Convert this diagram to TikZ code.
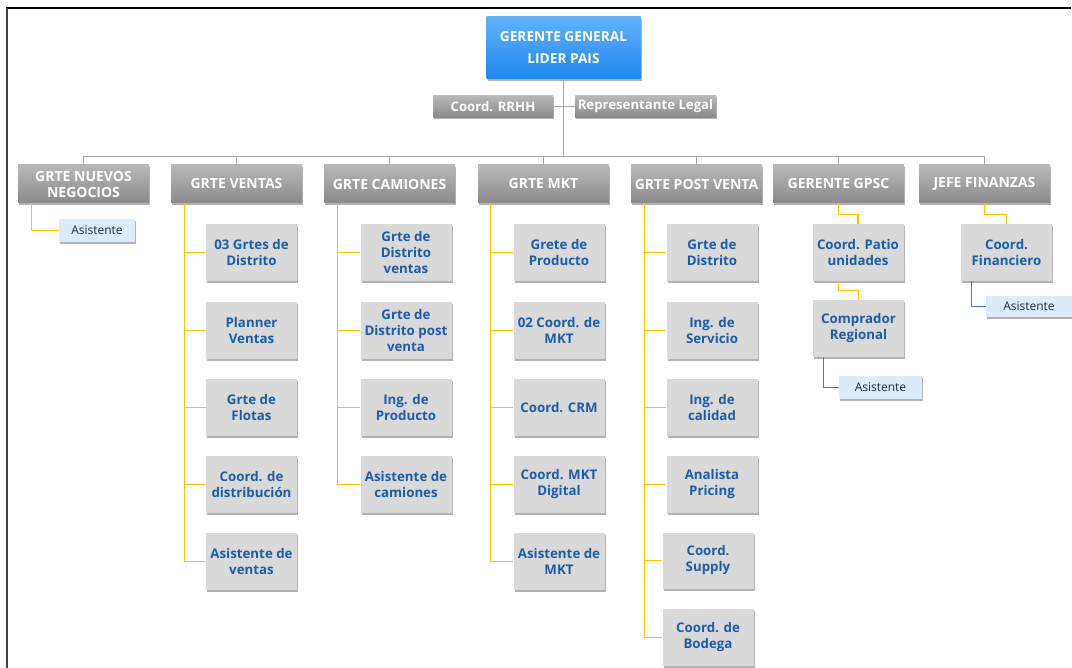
\documentclass[tikz,border=0pt]{standalone}
\usepackage{fontspec}
\setmainfont{Open Sans}
\usetikzlibrary{shadows,calc}
\definecolor{topA}{HTML}{62B2F8}
\definecolor{topB}{HTML}{1E86EE}
\definecolor{headA}{HTML}{B8B8B8}
\definecolor{headB}{HTML}{8A8A8A}
\definecolor{childfill}{HTML}{D9D9D9}
\definecolor{childtext}{HTML}{1C5BA6}
\definecolor{asisfill}{HTML}{DCEBFB}
\definecolor{asistext}{HTML}{1B2A3A}
\definecolor{yelline}{HTML}{FFC000}
\definecolor{bluline}{HTML}{3B7DDD}
\definecolor{gryline}{HTML}{A6A6A6}
\tikzset{
  shad/.style={drop shadow={shadow xshift=1.2pt,shadow yshift=-2pt,fill=black,opacity=0.3}},
  topbox/.style={shad,rectangle,top color=topA,bottom color=topB,draw=none,minimum width=154pt,minimum height=62pt,
    text=white,font=\fontsize{13.7}{22}\selectfont\bfseries,align=center,inner sep=0pt},
  headbox/.style={shad,rectangle,top color=headA,bottom color=headB,draw=none,minimum width=131pt,minimum height=38pt,
    text=white,font=\fontsize{14}{16}\selectfont\bfseries,align=center,inner sep=0pt},
  smallhead/.style={headbox,minimum height=22pt,font=\fontsize{13.2}{16}\selectfont\bfseries},
  childbox/.style={shad,rectangle,fill=childfill,draw=none,minimum width=91pt,minimum height=57pt,
    text=childtext,font=\fontsize{13.3}{16}\selectfont\bfseries,align=center,inner sep=0pt},
  asisbox/.style={shad,rectangle,fill=asisfill,draw=none,minimum height=23pt,
    text=asistext,font=\fontsize{12}{13}\selectfont,align=center,inner sep=0pt},
  yel/.style={draw=yelline,line width=1.1pt},
  blu/.style={draw=bluline,line width=1.1pt},
  gry/.style={draw=gryline,line width=1.1pt},
}
\begin{document}
\begin{tikzpicture}[x=1pt,y=-1pt]
\useasboundingbox (0,0) rectangle (1072,668);
\fill[white] (0,0) rectangle (1072,668);
% frame
\draw[black,line width=1.3pt] (6,8) -- (1071,8);
\draw[black!75,line width=1.5pt] (7,8) -- (7,668);
\coordinate (bar) at (0,156.5);
% top
\node[topbox] (top) at (563.5,48) {GERENTE GENERAL\\LIDER PAIS};
\node[smallhead,minimum width=120pt] (rrhh) at (493,106.5) {Coord. RRHH};
\node[smallhead,minimum width=141pt] (rep) at (645.5,106.5) {Representante Legal};
% heads
\node[headbox] (h1) at (83.5,184) {GRTE NUEVOS\\NEGOCIOS};
\node[headbox] (h2) at (236.5,184) {GRTE VENTAS};
\node[headbox] (h3) at (389.5,184) {GRTE\ CAMIONES};
\node[headbox] (h4) at (543.5,184) {GRTE MKT};
\node[headbox] (h5) at (696.5,184) {GRTE POST VENTA};
\node[headbox] (h6) at (838.5,184) {GERENTE\ GPSC};
\node[headbox] (h7) at (984.5,184) {JEFE FINANZAS};
% ventas children
\node[childbox] (v1) at (251.5,252.5) {03 Grtes de\\Distrito};
\node[childbox] (v2) at (251.5,330.5) {Planner\\Ventas};
\node[childbox] (v3) at (251.5,407.5) {Grte de\\Flotas};
\node[childbox] (v4) at (251.5,484.5) {Coord. de\\distribución};
\node[childbox] (v5) at (251.5,561.5) {Asistente de\\ventas};
% camiones children
\node[childbox] (c1) at (406,252.5) {Grte de\\Distrito\\ventas};
\node[childbox] (c2) at (406,330.5) {Grte de\\Distrito post\\venta};
\node[childbox] (c3) at (406,407.5) {Ing. de\\Producto};
\node[childbox] (c4) at (406,484.5) {Asistente de\\camiones};
% mkt children
\node[childbox] (m1) at (559,252.5) {Grete de\\Producto};
\node[childbox] (m2) at (559,330.5) {02 Coord. de\\MKT};
\node[childbox] (m3) at (559,407.5) {Coord. CRM};
\node[childbox] (m4) at (559,484.5) {Coord. MKT\\Digital};
\node[childbox] (m5) at (559,561.5) {Asistente de\\MKT};
% post venta children
\node[childbox] (p1) at (712,252.5) {Grte de\\Distrito};
\node[childbox] (p2) at (712,330.5) {Ing. de\\Servicio};
\node[childbox] (p3) at (712,407.5) {Ing. de\\calidad};
\node[childbox] (p4) at (712,484.5) {Analista\\Pricing};
\node[childbox,minimum height=56pt] (p5) at (708,560.5) {Coord.\\Supply};
\node[childbox] (p6) at (708,637.5) {Coord. de\\Bodega};
% gpsc
\node[childbox] (g1) at (858,252.5) {Coord. Patio\\unidades};
\node[childbox] (g2) at (858.5,328.5) {Comprador\\Regional};
% finanzas
\node[childbox] (f1) at (1006.5,252.5) {Coord.\\Financiero};
% asistentes
\node[asisbox,minimum width=76pt] (a1) at (97,230.5) {Asistente};
\node[asisbox,minimum width=83pt] (a3) at (880.5,387.5) {Asistente};
\node[asisbox,minimum width=86pt,minimum height=21pt] (a4) at (1029,306.5) {Asistente};
% gray connectors
\draw[gry] (top.south) -- (top.south |- bar);
\draw[gry] (rrhh.east) -- (rep.west);
\draw[gry] (h1.north |- bar) -- (h7.north |- bar);
\foreach \h in {h1,h2,h3,h4,h5,h6,h7} {\draw[gry] (\h.north) -- (\h.north |- bar);}
% yellow connectors
\draw[yel] ($(h1.south west)+(14,0)$) |- (a1.west);
\foreach \c in {v1,v2,v3,v4,v5} {\draw[yel] ($(h2.south west)+(14,0)$) |- (\c.west);}
\foreach \c in {c1,c2,c3,c4} {\draw[yel] ($(h3.south west)+(14,0)$) |- (\c.west);}
\foreach \c in {m1,m2,m3,m4,m5} {\draw[yel] ($(h4.south west)+(13,0)$) |- (\c.west);}
\foreach \c in {p1,p2,p3,p4,p5,p6} {\draw[yel] ($(h5.south west)+(14,0)$) |- (\c.west);}
\draw[yel] (h6.south) -- ++(0,11) -| (g1.north);
\draw[yel] ($(g1.south west)+(26.5,0)$) -- ++(0,9) -| (g2.north);
\draw[yel] (h7.south) -- ++(0,11) -| (f1.north);
% blue connectors
\draw[blu] ($(g2.south west)+(10.5,0)$) |- (a3.west);
\draw[blu] ($(f1.south west)+(10.5,0)$) |- (a4.west);
\end{tikzpicture}
\end{document}
